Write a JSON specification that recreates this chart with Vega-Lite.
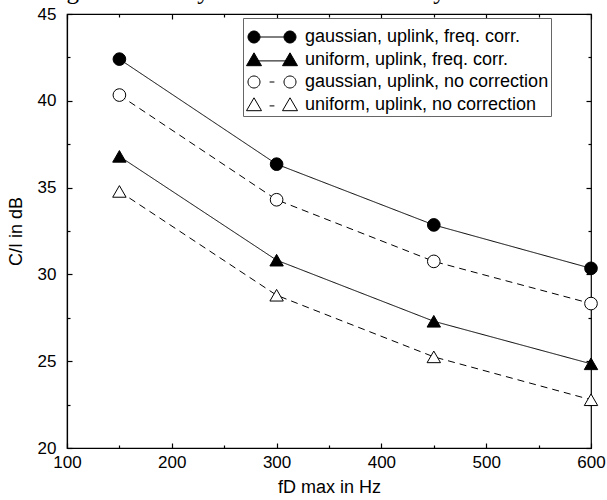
{
  "$schema": "https://vega.github.io/schema/vega-lite/v6.json",
  "autosize": "none",
  "width": 524,
  "height": 434,
  "padding": {"left": 67, "top": 14, "right": 16, "bottom": 52},
  "background": "white",
  "title": {
    "text": "Figure 7: The symbol x shows the analytical results.",
    "font": "Liberation Serif",
    "fontSize": 25,
    "fontWeight": "normal",
    "color": "black",
    "anchor": "middle",
    "frame": "bounds",
    "baseline": "alphabetic",
    "offset": -19
  },
  "config": {
    "view": {"stroke": "black", "strokeWidth": 1.2},
    "font": "Liberation Sans",
    "axis": {
      "domainColor": "black",
      "domainWidth": 1.2,
      "tickColor": "black",
      "tickWidth": 1.2,
      "labelColor": "black",
      "titleColor": "black",
      "labelFont": "Liberation Sans",
      "titleFont": "Liberation Sans",
      "labelFontSize": 17,
      "titleFontSize": 18,
      "titleFontWeight": "normal",
      "labelFlush": false,
      "labelOverlap": false,
      "grid": false
    }
  },
  "data": {
    "values": [
      {"f": 150, "ci": 42.4, "series": "gaussian, uplink, freq. corr.", "dist": "gaussian", "corr": "freq. corr."},
      {"f": 300, "ci": 36.35, "series": "gaussian, uplink, freq. corr.", "dist": "gaussian", "corr": "freq. corr."},
      {"f": 450, "ci": 32.85, "series": "gaussian, uplink, freq. corr.", "dist": "gaussian", "corr": "freq. corr."},
      {"f": 600, "ci": 30.35, "series": "gaussian, uplink, freq. corr.", "dist": "gaussian", "corr": "freq. corr."},
      {"f": 150, "ci": 36.8, "series": "uniform, uplink, freq. corr.", "dist": "uniform", "corr": "freq. corr."},
      {"f": 300, "ci": 30.82, "series": "uniform, uplink, freq. corr.", "dist": "uniform", "corr": "freq. corr."},
      {"f": 450, "ci": 27.3, "series": "uniform, uplink, freq. corr.", "dist": "uniform", "corr": "freq. corr."},
      {"f": 600, "ci": 24.85, "series": "uniform, uplink, freq. corr.", "dist": "uniform", "corr": "freq. corr."},
      {"f": 150, "ci": 40.33, "series": "gaussian, uplink, no correction", "dist": "gaussian", "corr": "no correction"},
      {"f": 300, "ci": 34.3, "series": "gaussian, uplink, no correction", "dist": "gaussian", "corr": "no correction"},
      {"f": 450, "ci": 30.75, "series": "gaussian, uplink, no correction", "dist": "gaussian", "corr": "no correction"},
      {"f": 600, "ci": 28.32, "series": "gaussian, uplink, no correction", "dist": "gaussian", "corr": "no correction"},
      {"f": 150, "ci": 34.78, "series": "uniform, uplink, no correction", "dist": "uniform", "corr": "no correction"},
      {"f": 300, "ci": 28.8, "series": "uniform, uplink, no correction", "dist": "uniform", "corr": "no correction"},
      {"f": 450, "ci": 25.25, "series": "uniform, uplink, no correction", "dist": "uniform", "corr": "no correction"},
      {"f": 600, "ci": 22.78, "series": "uniform, uplink, no correction", "dist": "uniform", "corr": "no correction"}
    ]
  },
  "resolve": {
    "scale": {"x": "independent", "y": "independent"},
    "axis": {"x": "independent", "y": "independent"}
  },
  "layer": [
    {
      "mark": {"type": "line", "color": "black", "strokeWidth": 1},
      "encoding": {
        "x": {
          "field": "f", "type": "quantitative",
          "scale": {"domain": [100, 600], "nice": false, "zero": false},
          "axis": {
            "orient": "bottom",
            "title": "fD max in Hz",
            "values": [100, 200, 300, 400, 500, 600],
            "ticks": false,
            "labelPadding": 6,
            "titlePadding": 8
          }
        },
        "y": {
          "field": "ci", "type": "quantitative",
          "scale": {"domain": [20, 45], "nice": false, "zero": false},
          "axis": {
            "orient": "left",
            "title": "C/I in dB",
            "values": [20, 25, 30, 35, 40, 45],
            "ticks": false,
            "labelPadding": 11,
            "titlePadding": 12
          }
        },
        "detail": {"field": "series"},
        "strokeDash": {
          "condition": {"test": "datum.corr === 'no correction'", "value": [7, 5]},
          "value": [1, 0]
        }
      }
    },
    {
      "mark": {"type": "point", "filled": true, "stroke": "black", "strokeWidth": 1, "opacity": 1},
      "encoding": {
        "x": {
          "field": "f", "type": "quantitative",
          "scale": {"domain": [100, 600], "nice": false, "zero": false},
          "axis": {
            "orient": "bottom", "title": null, "domain": false, "labels": false,
            "values": [100, 200, 300, 400, 500, 600],
            "offset": -5, "tickSize": 5
          }
        },
        "y": {
          "field": "ci", "type": "quantitative",
          "scale": {"domain": [20, 45], "nice": false, "zero": false},
          "axis": {
            "orient": "left", "title": null, "domain": false, "labels": false,
            "values": [20, 25, 30, 35, 40, 45],
            "offset": -5, "tickSize": 5
          }
        },
        "shape": {
          "condition": {"test": "datum.dist === 'gaussian'", "value": "circle"},
          "value": "triangle-up"
        },
        "size": {
          "condition": {"test": "datum.dist === 'gaussian'", "value": 160},
          "value": 180
        },
        "fill": {
          "condition": {"test": "datum.corr === 'freq. corr.'", "value": "black"},
          "value": "white"
        }
      }
    },
    {
      "mark": {"type": "point", "filled": true, "strokeWidth": 1, "size": 0, "opacity": 1},
      "encoding": {
        "x": {
          "field": "f", "type": "quantitative",
          "scale": {"domain": [100, 600], "nice": false, "zero": false},
          "axis": {
            "orient": "bottom", "title": null, "domain": false, "labels": false,
            "values": [150, 250, 350, 450, 550],
            "offset": -3, "tickSize": 3
          }
        },
        "y": {
          "field": "ci", "type": "quantitative",
          "scale": {"domain": [20, 45], "nice": false, "zero": false},
          "axis": {
            "orient": "left", "title": null, "domain": false, "labels": false,
            "values": [22.5, 27.5, 32.5, 37.5, 42.5],
            "offset": -3, "tickSize": 3
          }
        },
        "shape": {
          "field": "series", "type": "nominal",
          "scale": {
            "domain": ["gaussian, uplink, freq. corr.", "uniform, uplink, freq. corr.", "gaussian, uplink, no correction", "uniform, uplink, no correction"],
            "range": [
              "M-1,0A1,1 0 1,0 1,0A1,1 0 1,0 -1,0ZM5,0A1,1 0 1,0 7,0A1,1 0 1,0 5,0ZM1,0L5,0",
              "M-1.25,0.95L1.25,0.95L0,-1.2ZM4.75,0.95L7.25,0.95L6,-1.2ZM0.7,0.15L5.3,0.15",
              "M-1,0A1,1 0 1,0 1,0A1,1 0 1,0 -1,0ZM5,0A1,1 0 1,0 7,0A1,1 0 1,0 5,0ZM2.6,0L3.4,0",
              "M-1.25,0.95L1.25,0.95L0,-1.2ZM4.75,0.95L7.25,0.95L6,-1.2ZM2.6,0.15L3.4,0.15"
            ]
          },
          "legend": {
            "title": " ",
            "titleFontSize": 6,
            "titlePadding": 2,
            "orient": "none",
            "legendX": 176,
            "legendY": 4,
            "padding": 2,
            "strokeColor": "#666666",
            "fillColor": "white",
            "symbolSize": 144,
            "symbolStrokeWidth": 1,
            "symbolOpacity": 1,
            "labelOffset": 42,
            "labelFont": "Liberation Sans",
            "labelFontSize": 18,
            "labelColor": "black",
            "labelLimit": 400,
            "rowPadding": 4
          }
        },
        "fill": {
          "field": "series", "type": "nominal",
          "scale": {
            "domain": ["gaussian, uplink, freq. corr.", "uniform, uplink, freq. corr.", "gaussian, uplink, no correction", "uniform, uplink, no correction"],
            "range": ["black", "black", "white", "white"]
          }
        },
        "stroke": {
          "field": "series", "type": "nominal",
          "scale": {
            "domain": ["gaussian, uplink, freq. corr.", "uniform, uplink, freq. corr.", "gaussian, uplink, no correction", "uniform, uplink, no correction"],
            "range": ["black", "black", "black", "black"]
          }
        }
      }
    },
    {
      "mark": {"type": "point", "size": 0, "opacity": 0},
      "encoding": {
        "x": {
          "field": "f", "type": "quantitative",
          "scale": {"domain": [100, 600], "nice": false, "zero": false},
          "axis": {
            "orient": "top", "title": null, "domain": false, "labels": false,
            "values": [100, 200, 300, 400, 500, 600],
            "offset": -5, "tickSize": 5
          }
        },
        "y": {
          "field": "ci", "type": "quantitative",
          "scale": {"domain": [20, 45], "nice": false, "zero": false},
          "axis": {
            "orient": "right", "title": null, "domain": false, "labels": false,
            "values": [20, 25, 30, 35, 40, 45],
            "offset": -5, "tickSize": 5
          }
        }
      }
    },
    {
      "mark": {"type": "point", "size": 0, "opacity": 0},
      "encoding": {
        "x": {
          "field": "f", "type": "quantitative",
          "scale": {"domain": [100, 600], "nice": false, "zero": false},
          "axis": {
            "orient": "top", "title": null, "domain": false, "labels": false,
            "values": [150, 250, 350, 450, 550],
            "offset": -3, "tickSize": 3
          }
        },
        "y": {
          "field": "ci", "type": "quantitative",
          "scale": {"domain": [20, 45], "nice": false, "zero": false},
          "axis": {
            "orient": "right", "title": null, "domain": false, "labels": false,
            "values": [22.5, 27.5, 32.5, 37.5, 42.5],
            "offset": -3, "tickSize": 3
          }
        }
      }
    }
  ]
}
